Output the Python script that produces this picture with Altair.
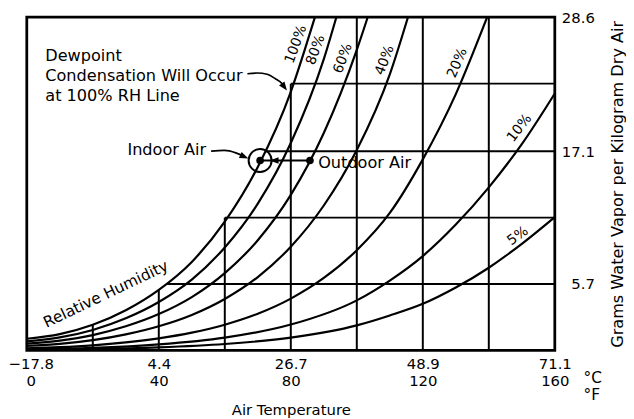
import altair as alt
import pandas as pd

# ---------------- values ----------------
# Relative-humidity curves: air temperature (°F) -> grams water vapor per kg dry air
rh_names = ["100%", "80%", "60%", "40%", "20%", "10%", "5%"]
rh_temps = [
    [0, 10, 20, 30, 40, 50, 60, 70, 80, 84, 87.3],
    [0, 10, 20, 30, 40, 50, 60, 70, 80, 90, 93.8],
    [0, 10, 20, 30, 40, 50, 60, 70, 80, 90, 100, 103.3],
    [0, 10, 20, 30, 40, 50, 60, 70, 80, 90, 100, 110, 115.5],
    [0, 10, 20, 30, 40, 50, 60, 70, 80, 90, 100, 110, 120, 130, 139.5],
    [0, 20, 40, 60, 80, 100, 110, 120, 130, 140, 150, 160],
    [0, 20, 40, 60, 80, 100, 110, 120, 130, 140, 150, 160],
]
rh_water = [
    [1.0, 1.4, 2.2, 3.45, 5.2, 7.6, 11.05, 15.75, 22.2, 25.6, 28.6],
    [0.78, 1.12, 1.76, 2.76, 4.16, 6.08, 8.84, 12.6, 17.8, 25.0, 28.6],
    [0.58, 0.84, 1.32, 2.07, 3.12, 4.58, 6.64, 9.46, 13.35, 18.66, 25.8, 28.6],
    [0.39, 0.56, 0.88, 1.38, 2.08, 3.05, 4.42, 6.3, 8.9, 12.44, 17.2, 23.7, 28.6],
    [0.19, 0.28, 0.44, 0.69, 1.04, 1.53, 2.21, 3.15, 4.45, 6.22, 8.6, 11.8, 16.4, 22.0, 28.6],
    [0.1, 0.22, 0.52, 1.1, 2.22, 4.3, 6.0, 8.1, 10.8, 14.0, 17.7, 22.05],
    [0.05, 0.11, 0.26, 0.55, 1.1, 2.15, 3.0, 4.0, 5.4, 7.1, 9.15, 11.45],
]

# partial grid lines (stop at the saturation curve)
grid_v_temps = [20, 40, 60, 80, 100, 120, 140]
grid_v_top = [2.2, 5.2, 11.4, 22.9, 28.6, 28.6, 28.6]
grid_h_water = [5.7, 11.4, 17.1, 22.9]
grid_h_start = [42.3, 60, 72.5, 80]
grid_h_end = [160, 160, 160, 160]

# axis ticks / labels
f_ticks = [0, 40, 80, 120, 160]
c_labels = ["\u221217.8", "4.4", "26.7", "48.9", "71.1"]
f_labels = ["0", "40", "80", "120", "160"]
w_ticks = [5.7, 17.1, 28.6]
w_labels = ["5.7", "17.1", "28.6"]

# air states
indoor_air = [70.7, 16.3]
outdoor_air = [85.8, 16.3]

# ---------------- chart ----------------
FONT = "DejaVu Sans"
INK = "black"

curves_df = pd.DataFrame(
    [{"T": t, "W": w, "rh": n} for n, ts, ws in zip(rh_names, rh_temps, rh_water) for t, w in zip(ts, ws)]
)
vgrid_df = pd.DataFrame({"T": grid_v_temps, "W0": [0] * len(grid_v_temps), "W": grid_v_top})
hgrid_df = pd.DataFrame({"T": grid_h_start, "T2": grid_h_end, "W": grid_h_water})


def cond_expr(vals, labs):
    expr = "''"
    for v, l in reversed(list(zip(vals, labs))):
        expr = f"abs(datum.value - {v}) < 0.01 ? {l} : ({expr})"
    return expr


x_label_expr = cond_expr(f_ticks, [f"['{c}', '{f}']" for c, f in zip(c_labels, f_labels)])
y_label_expr = cond_expr(w_ticks, [f"'{l}'" for l in w_labels])

xs = alt.Scale(domain=[0, 160], nice=False, zero=False)
ys = alt.Scale(domain=[0, 28.6], nice=False, zero=False)

x_axis = alt.Axis(
    values=f_ticks, labelExpr=x_label_expr, ticks=False, domain=False, grid=False,
    labelFlush=False, labelOverlap=False, labelFont=FONT, labelFontSize=15, labelColor=INK,
    labelPadding=6, labelLineHeight=17.5, labelBaseline="top",
    labelOffset={"condition": {"test": "datum.value == 0", "value": 4}, "value": 0},
    title="Air Temperature", titleFont=FONT, titleFontSize=15, titleFontWeight="normal",
    titleColor=INK, titleY=65, titleBaseline="alphabetic",
)
y_axis = alt.Axis(
    orient="right", values=w_ticks, labelExpr=y_label_expr, ticks=False, domain=False, grid=False,
    labelFlush=True, labelOverlap=False, labelAlign="right", labelBaseline="middle", labelPadding=40,
    labelFont=FONT, labelFontSize=15, labelColor=INK,
    title="Grams Water Vapor per Kilogram Dry Air", titleFont=FONT, titleFontSize=16.3,
    titleFontWeight="normal", titleColor=INK, titleAngle=270, titleX=68, titleY=168.5,
    titleAlign="center", titleBaseline="alphabetic",
)


def X(f="T"):
    return alt.X(f"{f}:Q", scale=xs, axis=x_axis)


def Y(f="W"):
    return alt.Y(f"{f}:Q", scale=ys, axis=y_axis)


curves = alt.Chart(curves_df).mark_line(color=INK, strokeWidth=2.2, interpolate="monotone").encode(
    x=X(), y=Y(), detail="rh:N", order="T:Q"
)
vgrid = alt.Chart(vgrid_df).mark_rule(color=INK, strokeWidth=2.0).encode(x=X(), y=Y("W0"), y2="W:Q")
hgrid = alt.Chart(hgrid_df).mark_rule(color=INK, strokeWidth=2.0).encode(x=X(), x2="T2:Q", y=Y())

# RH labels along the curves
rh_lab_df = pd.DataFrame({
    "text": rh_names,
    "T": [81.6, 87.6, 95.8, 108.5, 130.5, 149.3, 148.8],
    "W": [26.27, 25.78, 25.06, 24.9, 24.66, 19.08, 9.81],
    "a": [290, 290, 290, 291, 293, 308, 324],
})
rh_labels = alt.Chart(rh_lab_df).mark_text(font=FONT, fontSize=14, color=INK, align="center", baseline="middle").encode(
    x=X(), y=Y(), text="text:N", angle=alt.Angle("a:Q", scale=None)
)

# annotation texts
left_txt_df = pd.DataFrame({
    "text": ["Dewpoint", "Condensation Will Occur", "at 100% RH Line", "Outdoor Air"],
    "T": [5.6, 5.6, 5.6, 88.3],
    "W": [24.8, 23.1, 21.41, 15.69],
})
left_txt = alt.Chart(left_txt_df).mark_text(font=FONT, fontSize=16.3, color=INK, align="left", baseline="alphabetic").encode(
    x=X(), y=Y(), text="text:N"
)
indoor_txt = alt.Chart(pd.DataFrame({"text": ["Indoor Air"], "T": [54.35], "W": [16.77]})).mark_text(
    font=FONT, fontSize=16.3, color=INK, align="right", baseline="alphabetic"
).encode(x=X(), y=Y(), text="text:N")
rel_txt = alt.Chart(pd.DataFrame({"text": ["Relative Humidity"], "T": [24.6], "W": [4.45]})).mark_text(
    font=FONT, fontSize=15.5, color=INK, align="center", baseline="alphabetic", angle=334.5
).encode(x=X(), y=Y(), text="text:N")

unit_df = pd.DataFrame({"text": ["\u00b0C", "\u00b0F"], "yy": [358, 375.5]})
unit_txt = alt.Chart(unit_df).mark_text(font=FONT, fontSize=15.5, color=INK, align="left", baseline="top").encode(
    x=alt.value(563), y=alt.Y("yy:Q", scale=None), text="text:N"
)

# curved annotation arrows
arrow_df = pd.DataFrame({
    "id": ["dew"] * 6 + ["in"] * 4,
    "T": [66.85, 69.84, 72.84, 75.33, 77.34, 77.94, 55.85, 59.86, 63.34, 65.65],
    "W": [23.75, 23.81, 23.70, 23.32, 22.90, 22.67, 17.11, 17.17, 16.96, 16.68],
})
arrows = alt.Chart(arrow_df).mark_line(color=INK, strokeWidth=1.7, interpolate="monotone").encode(
    x=X(), y=Y(), detail="id:N", order="T:Q"
)
head_df = pd.DataFrame({"T": [78.84, 67.15, 73.6], "W": [22.3, 16.47, outdoor_air[1]], "a": [54, 24, 180]})
heads = alt.Chart(head_df).mark_point(
    shape="M0,0L-2,-0.75L-2,0.75Z", filled=True, size=81, color=INK, opacity=1
).encode(x=X(), y=Y(), angle=alt.Angle("a:Q", scale=None))

# indoor / outdoor states
state_df = pd.DataFrame({"T": [indoor_air[0], outdoor_air[0]], "W": [indoor_air[1], outdoor_air[1]]})
state_line = alt.Chart(state_df).mark_line(color=INK, strokeWidth=2.0).encode(x=X(), y=Y())
state_dots = alt.Chart(state_df).mark_circle(size=60, color=INK, opacity=1).encode(x=X(), y=Y())
ring = alt.Chart(state_df.iloc[[0]]).mark_point(
    shape="circle", filled=False, size=540, strokeWidth=2.0, color=INK, opacity=1
).encode(x=X(), y=Y())

chart = alt.layer(
    vgrid, hgrid, curves, rh_labels, left_txt, indoor_txt, rel_txt, unit_txt,
    arrows, heads, state_line, state_dots, ring,
).properties(
    width=534, height=337,
    autosize=alt.AutoSizeParams(type="none"),
    padding={"left": 19, "top": 7, "right": 72, "bottom": 66},
    background="white",
).configure_view(stroke=INK, strokeWidth=2.8)

chart.save("out.html", embed_options={"renderer": "svg", "actions": False})
